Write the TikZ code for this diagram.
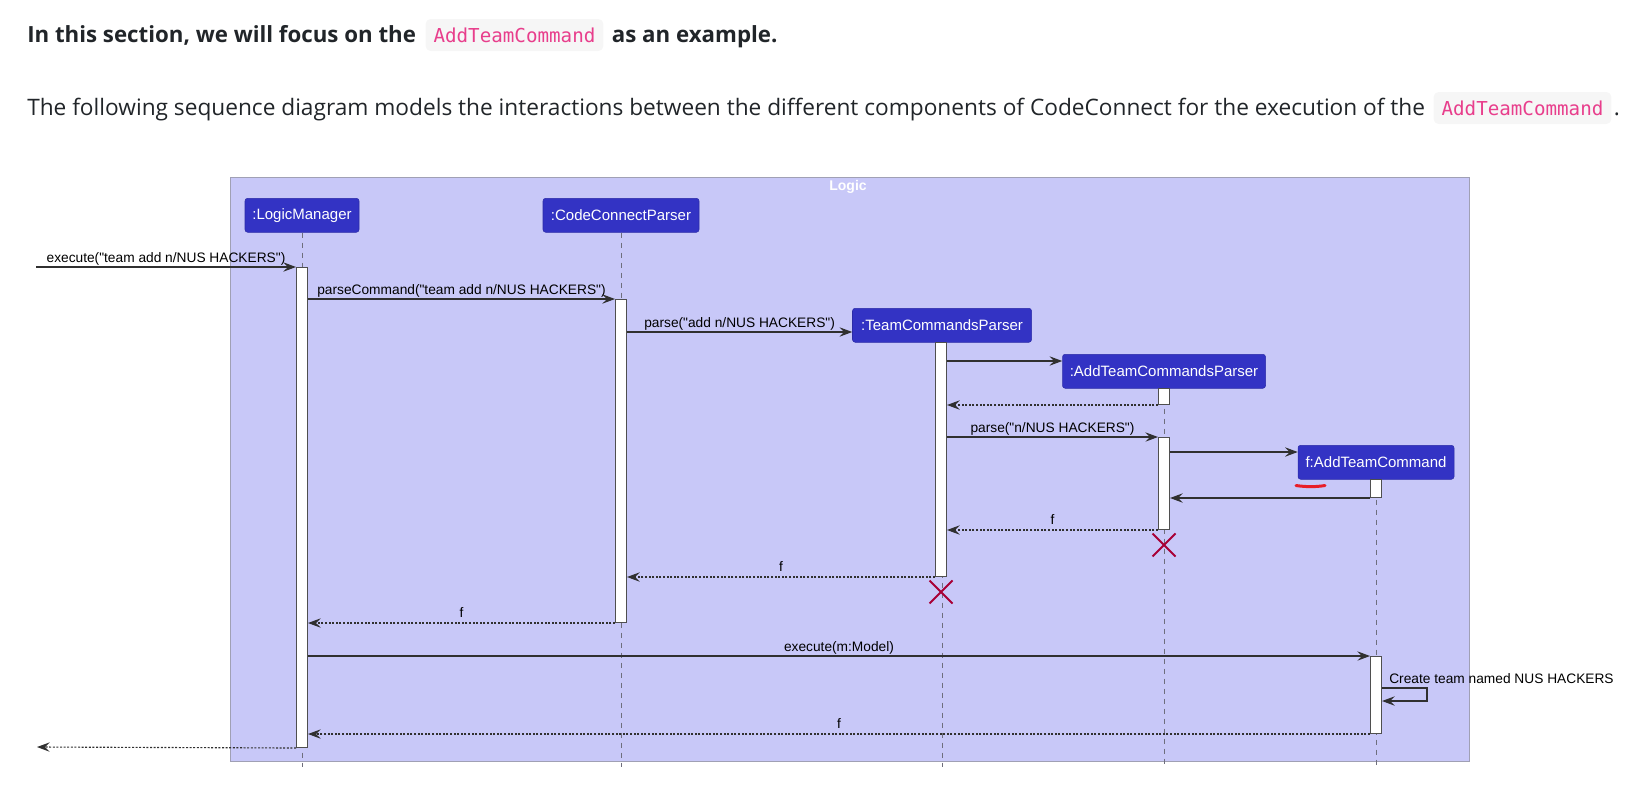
\documentclass[tikz,border=0pt]{standalone}
\usepackage{fontspec}
\setmainfont{Open Sans}
\setmonofont{DejaVu Sans Mono}
\newfontfamily\umlfont{Liberation Sans}
\usetikzlibrary{arrows.meta}
\usetikzlibrary{positioning}
\usetikzlibrary{shapes.misc}
\definecolor{mtext}{RGB}{33,37,41}
\definecolor{mcode}{RGB}{232,62,140}
\definecolor{mcodebg}{RGB}{246,246,246}
\definecolor{mframe}{RGB}{200,200,248}
\definecolor{mframeline}{RGB}{160,160,180}
\definecolor{mpart}{RGB}{51,51,196}
\definecolor{mline}{RGB}{48,48,48}
\definecolor{mlife}{RGB}{110,110,125}
\definecolor{mcross}{RGB}{168,0,54}
\definecolor{mred}{RGB}{232,30,40}
\tikzset{head/.style = {anchor=base west, inner sep=0pt, text=mtext,
                        font=\fontsize{17}{20}\selectfont},
         boldhead/.style = {head, font=\fontsize{16.7}{20}\selectfont\bfseries},
         codebox/.style = {anchor=base west, fill=mcodebg, rounded corners=3.75pt,
                           text=mcode, font=\ttfamily\fontsize{14.4}{17}\selectfont,
                           inner xsep=6pt, inner ysep=0pt,
                           text height=17.25pt, text depth=6.75pt},
         part/.style = {anchor=north, draw=mpart!85!black, fill=mpart, rounded corners=2pt,
                        text=white, font=\umlfont\fontsize{11.25}{13}\selectfont,
                        minimum height=25.5pt, inner sep=0pt},
         act/.style = {anchor=north, draw=mline!85, fill=white, line width=0.75pt,
                       minimum width=8.25pt, inner sep=0pt, minimum height=#1*0.75pt},
         life/.style = {draw=mlife, line width=0.75pt, dash pattern=on 3.75pt off 3.75pt},
         msg/.style = {draw=mline, line width=0.85pt,
                       -{Stealth[length=9.5pt, width=7pt, inset=3.5pt]}},
         ret/.style = {msg, dash pattern=on 1.5pt off 1.2pt},
         lbl/.style = {midway, anchor=base, yshift=3.75pt, inner sep=0pt, text=black,
                       font=\umlfont\fontsize{10.3}{12}\selectfont},
         kill/.style = {cross out, draw=mcross, line width=1.5pt, minimum size=15.75pt,
                        inner sep=0pt}}

\begin{document}
\begin{tikzpicture}[x=0.75pt, y=-0.75pt]
    \useasboundingbox (0,0) rectangle (1640,801);

    \node [boldhead] (h1) at (27,42) {In this section, we will focus on the};
    \node [codebox] (h1code) at ([xshift=6.75pt]h1.base east) {AddTeamCommand};
    \node [boldhead] (h1end) at ([xshift=6pt]h1code.base east) {as an example.};

    \node [head] (h2) at (27,115) {The following sequence diagram models the interactions between the different components of CodeConnect for the execution of the};
    \node [codebox] (h2code) at ([xshift=6pt]h2.base east) {AddTeamCommand};
    \node [head] (h2end) at ([xshift=1.5pt]h2code.base east) {.};

    \draw [fill=mframe, draw=mframeline, line width=0.75pt] (230,177) rectangle (1469,761);
    \node [anchor=base, text=white, inner sep=0pt, font=\umlfont\bfseries\fontsize{10.5}{12}\selectfont] (logic) at (848,190) {Logic};

    \node [part, minimum width=85.5pt] (lm) at (302,198) {:LogicManager};
    \node [part, minimum width=117pt] (ccp) at (621,198) {:CodeConnectParser};
    \node [part, minimum width=134.25pt] (tcp) at (942,308) {:TeamCommandsParser};
    \node [part, minimum width=152.25pt] (atcp) at (1164,354) {:AddTeamCommandsParser};
    \node [part, minimum width=117pt] (atc) at (1376,445) {f:AddTeamCommand};

    \coordinate (bottom) at (0,767);
    \foreach \p in {lm, ccp, tcp, atcp, atc}
      \draw [life] (\p.south) -- (\p.south |- bottom);

    \draw [mred, line width=2.25pt, line cap=round] (1296,485.5) .. controls (1306,487) and (1316,487) .. (1325,485.5);

    \node [act=480] (lmA) at (302,267) {};
    \node [act=323] (ccpA) at (621,299) {};
    \node [act=234] (tcpA) at (941,342) {};
    \node [act=16] (atcpA) at (1164,388) {};
    \node [act=92] (atcpB) at (1164,437) {};
    \node [act=18] (atcA) at (1376,479) {};
    \node [act=77] (atcB) at (1376,656) {};

    \coordinate (in) at (36,267);
    \coordinate (out) at (37,747);
    \coordinate (toTcp) at (0,332);
    \coordinate (toAtcp) at (0,361);
    \coordinate (toAtc) at (0,452);
    \coordinate (self) at (0,688);

    \draw [msg] (in) -- (lmA.north west) node [lbl] {execute("team add n/NUS HACKERS")};
    \draw [msg] (lmA.east |- ccpA.north) -- (ccpA.north west) node [lbl] {parseCommand("team add n/NUS HACKERS")};
    \draw [msg] (ccpA.east |- toTcp) -- (tcp.west |- toTcp) node [lbl] {parse("add n/NUS HACKERS")};
    \draw [msg] (tcpA.east |- toAtcp) -- (atcp.west |- toAtcp);
    \draw [ret] (atcpA.south west) -- (tcpA.east |- atcpA.south);
    \draw [msg] (tcpA.east |- atcpB.north) -- (atcpB.north west) node [lbl] {parse("n/NUS HACKERS")};
    \draw [msg] (atcpB.east |- toAtc) -- (atc.west |- toAtc);
    \draw [msg] (atcA.south west) -- (atcpB.east |- atcA.south);
    \draw [ret] (atcpB.south west) -- (tcpA.east |- atcpB.south) node [lbl, yshift=0.5pt] {f};
    \node [kill] (atcpX) at ([yshift=-11.25pt]atcpB.south) {};
    \draw [ret] (tcpA.south west) -- (ccpA.east |- tcpA.south) node [lbl, yshift=0.5pt] {f};
    \node [kill] (tcpX) at ([yshift=-11.25pt]tcpA.south) {};
    \draw [ret] (ccpA.south west) -- (lmA.east |- ccpA.south) node [lbl, yshift=0.5pt] {f};
    \draw [msg] (lmA.east |- atcB.north) -- (atcB.north west) node [lbl] {execute(m:Model)};
    \draw [msg] (atcB.east |- self) -- ++(45,0) -- ++(0,13) -- ++(-45,0);
    \node [anchor=base west, inner sep=0pt, text=black, font=\umlfont\fontsize{10.3}{12}\selectfont] (selfmsg) at (1389,683) {Create team named NUS HACKERS};
    \draw [ret] (atcB.south west) -- (lmA.east |- atcB.south) node [lbl, yshift=0.5pt] {f};
    \draw [ret] (lmA.south west) -- (out);
  \end{tikzpicture}
\end{document}
